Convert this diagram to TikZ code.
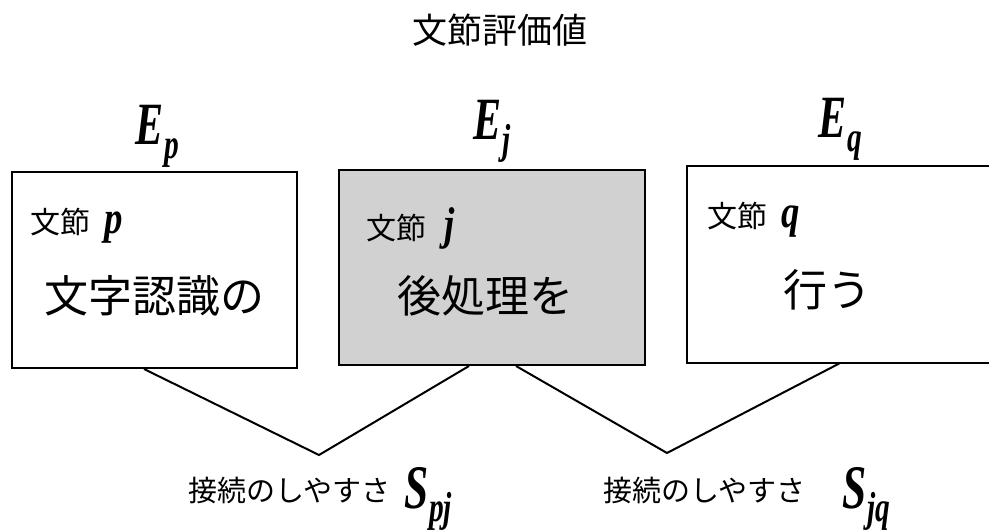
\documentclass[tikz,border=0pt]{standalone}
\usepackage{fontspec}
\setmainfont{Liberation Serif}
\newfontfamily\jp{Noto Sans CJK JP}
\usetikzlibrary{calc}
\newcommand{\bvar}[2]{\scalebox{0.7}[1]{\bfseries\itshape #1\kern1pt\raisebox{-0.22em}{\fontsize{42}{42}\selectfont #2}}}
\newcommand{\lvar}[1]{\scalebox{0.8}[1]{\fontspec{Liberation Serif}\bfseries\itshape\fontsize{46}{46}\selectfont #1}}
\begin{document}
\begin{tikzpicture}[x=1pt,y=-1pt,
  box/.style={draw=black, line width=2pt, inner sep=0pt},
  conn/.style={draw=black, line width=2pt, line join=miter},
  jsmall/.style={font=\jp\fontsize{30}{30}\selectfont, inner sep=0pt, anchor=west},
  jbig/.style={font=\jp\fontsize{44}{44}\selectfont, inner sep=0pt},
  evar/.style={font=\fontsize{60}{60}\selectfont, inner sep=0pt},
  svar/.style={font=\fontsize{62}{62}\selectfont, inner sep=0pt}]
\useasboundingbox (0,0) rectangle (989,532);
\clip (0,0) rectangle (989,532);
\fill[white] (0,0) rectangle (989,532);

\node[font=\jp\fontsize{35}{35}\selectfont, inner sep=0pt] (title) at (500,30) {文節評価値};

% boxes
\node[box, minimum width=285pt, minimum height=196pt] (p) at (154.5,270) {};
\node[box, fill=black!18, minimum width=306pt, minimum height=195pt] (j) at (492,267.5) {};
\node[draw=none, inner sep=0pt, minimum width=340pt, minimum height=197pt] (q) at (857,264.5) {};
\draw[line width=2pt] (q.north east) -- (q.north west) -- (q.south west) -- (q.south east);

% E labels
\node[evar, anchor=base] (Ep) at (157,145) {\bvar{E}{p}};
\node[evar, anchor=base] (Ej) at (492,140) {\bvar{E}{j}};
\node[evar, anchor=base] (Eq) at (840,138) {\bvar{E}{q}};

% box texts
\node[jsmall] (pl) at (30,226) {文節\hspace{14pt}\lvar{p}};
\node[jbig] (pt) at (155,296) {文字認識の};
\node[jsmall] (jl) at (366,228) {文節\hspace{18pt}\lvar{j}};
\node[jbig] (jt) at (485,296) {後処理を};
\node[jsmall] (ql) at (707,220) {文節\hspace{14pt}\lvar{q}};
\node[jbig] (qt) at (827,290) {行う};

% connectors
\coordinate (v1) at (319,455);
\coordinate (v2) at (667,453);
\draw[conn] ($(p.south west)+(133,0)$) -- (v1) -- ($(j.south west)+(131,0)$);
\draw[conn] ($(j.south west)+(178,0)$) -- (v2) -- ($(q.south west)+(153,0)$);

% S labels
\node[font=\jp\fontsize{29}{29}\selectfont, inner sep=0pt, anchor=west] (s1) at (188,490) {接続のしやすさ};
\node[svar, anchor=base west] (Spj) at (404,508) {\bvar{S}{pj}};
\node[font=\jp\fontsize{29}{29}\selectfont, inner sep=0pt, anchor=west] (s2) at (603,490) {接続のしやすさ};
\node[svar, anchor=base west] (Sjq) at (842,508) {\bvar{S}{jq}};
\end{tikzpicture}
\end{document}
